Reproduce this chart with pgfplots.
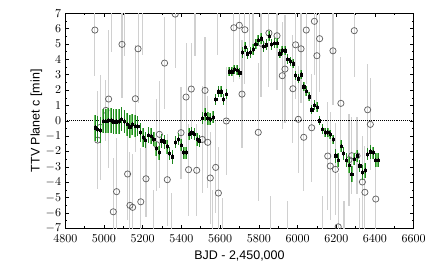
\documentclass[border=0pt]{standalone}
\usepackage{fontspec}
\setmainfont{Liberation Sans}
\usepackage{pgfplots}
\usepackage{pgfplotstable}
\pgfplotsset{compat=1.18}
\definecolor{errgray}{RGB}{208,208,208}
\definecolor{circgray}{RGB}{95,95,95}
\definecolor{lgreen}{RGB}{110,195,100}
\definecolor{dgreen}{RGB}{30,135,30}

\pgfplotstableread{
x y ge
4953 -0.45 0.85
4967 -0.55 0.85
4981 -0.62 0.85
4995 -0.01 0.8
5009 0.00 0.8
5022 0.03 0.8
5036 0.03 0.8
5050 -0.06 0.8
5063 -0.06 0.8
5077 -0.03 0.8
5091 0.12 0.8
5105 -0.03 0.75
5119 -0.21 0.75
5133 -0.38 0.75
5146 -0.23 0.7
5160 -0.34 0.7
5174 -0.36 0.65
5188 -0.75 0.6
5201 -1.08 0.6
5215 -1.25 0.55
5229 -0.92 0.5
5243 -0.99 0.5
5257 -1.20 0.45
5270 -1.81 0.45
5284 -2.07 0.45
5298 -1.29 0.45
5312 -1.36 0.45
5325 -1.68 0.45
5339 -2.12 0.45
5353 -2.34 0.45
5370 -1.40 0.4
5384 -1.20 0.4
5398 -1.58 0.4
5412 -2.07 0.4
5425 -2.07 0.4
5439 -0.86 0.4
5453 -0.77 0.4
5467 -0.86 0.4
5480 -1.21 0.4
5494 -1.29 0.4
5508 0.18 0.4
5522 0.42 0.4
5536 0.16 0.4
5549 0.10 0.4
5563 0.23 0.4
5577 1.40 0.35
5591 1.90 0.35
5604 1.90 0.35
5618 1.40 0.35
5632 1.74 0.35
5646 3.20 0.3
5660 3.20 0.3
5673 3.35 0.3
5687 3.31 0.3
5701 3.13 0.3
5715 4.45 0.35
5728 4.80 0.35
5742 4.37 0.35
5756 4.46 0.35
5770 4.65 0.35
5784 5.00 0.35
5797 5.26 0.35
5811 5.35 0.35
5825 4.83 0.35
5839 4.95 0.35
5852 5.52 0.35
5866 4.98 0.35
5880 5.07 0.35
5894 5.07 0.35
5908 4.37 0.3
5921 4.59 0.3
5935 4.56 0.3
5949 4.02 0.3
5963 3.87 0.3
5976 3.72 0.3
5990 2.96 0.3
6004 2.74 0.3
6018 3.00 0.3
6032 2.22 0.3
6045 1.94 0.3
6059 1.57 0.3
6073 0.72 0.3
6087 1.03 0.3
6100 0.90 0.3
6114 0.01 0.3
6128 -0.53 0.3
6142 -0.75 0.3
6156 -0.75 0.3
6169 -0.88 0.3
6183 -1.20 0.3
6197 -2.27 0.45
6210 -2.55 0.45
6224 -1.64 0.4
6238 -2.12 0.4
6252 -2.55 0.45
6266 -2.88 0.5
6280 -3.46 0.5
6293 -2.49 0.4
6307 -2.27 0.4
6321 -2.92 0.4
6335 -3.35 0.5
6348 -3.22 0.5
6362 -2.18 0.4
6376 -2.01 0.45
6390 -2.07 0.4
6404 -2.55 0.45
6417 -2.55 0.45
}\maindata

\pgfplotstableread{
x y e
4953 5.91 3.0
4967 -1.25 3.2
4981 -0.42 3.4
5010 0.68 2.0
5024 1.42 4.5
5048 -5.92 3.5
5065 -4.61 3.5
5093 4.98 3.5
5122 -3.46 3.0
5134 -5.50 3.5
5148 -5.63 3.5
5162 1.44 3.5
5176 4.69 3.5
5190 -5.27 3.5
5217 -3.77 2.5
5272 -1.55 3.0
5286 -0.88 3.5
5313 3.76 3.0
5327 -3.83 3.0
5368 6.95 3.5
5398 -0.77 3.0
5424 1.55 3.5
5437 -3.18 3.0
5451 2.07 3.0
5479 -3.22 3.0
5508 -1.21 3.5
5522 1.98 3.5
5536 -1.40 3.0
5549 -3.72 3.0
5577 -3.03 3.0
5591 -4.70 3.0
5632 -0.01 3.5
5671 6.06 3.5
5699 6.22 3.5
5713 1.74 3.5
5728 5.93 3.5
5797 -0.75 4.5
5811 5.05 3.5
5852 5.72 3.5
5894 5.54 3.5
5921 2.94 3.5
5935 3.37 3.5
5976 2.09 3.5
5990 4.95 3.5
6004 0.10 3.5
6018 4.69 3.5
6032 -1.07 3.5
6045 5.91 3.5
6073 -0.45 3.5
6087 6.48 3.5
6100 4.24 3.5
6114 5.35 3.5
6156 -2.29 3.5
6169 -2.94 3.5
6183 4.56 3.5
6196 -3.16 3.0
6210 -6.90 3.5
6224 1.14 3.0
6266 -2.53 3.0
6280 -2.27 2.5
6293 5.87 3.0
6307 -2.27 2.5
6335 -3.98 3.0
6348 -4.65 3.0
6362 0.72 3.0
6376 -0.23 3.0
6404 -5.09 3.0
5037 8.5 4.0
5107 8.0 3.8
5200 7.8 3.5
5255 -8.0 3.5
5350 -8.5 3.8
5470 8.2 4.0
5560 -8.3 3.8
5585 8.5 4.2
5610 -8.5 3.5
5750 9.0 4.2
5770 8.2 3.8
5860 -8.5 3.6
5950 -9.0 3.8
6130 -8.5 3.6
6240 -9.0 3.8
6320 -8.6 3.6
}\circdata

\begin{document}
\begin{tikzpicture}
\begin{axis}[
  scale only axis,
  width=290.3pt, height=179.2pt,
  xmin=4800, xmax=6600, ymin=-7, ymax=7,
  xtick distance=200, ytick distance=1,
  minor x tick num=1, minor y tick num=1,
  tick align=inside,
  major tick length=3pt, minor tick length=1.8pt,
  axis line style={line width=0.6pt},
  every tick/.style={black, line width=0.5pt},
  clip marker paths=true,
  /pgf/number format/set thousands separator={},
  xlabel={BJD - 2,450,000},
  ylabel={TTV Planet c [min]},
  label style={font=\fontsize{10.4}{12}\selectfont},
  ticklabel style={font=\fontsize{10}{12}\selectfont},
  xticklabel style={yshift=-1.5pt},
  ylabel shift=-4pt,
]
% gray error bars
\addplot[draw=none, mark=none, error bars/.cd, y dir=both, y explicit, error mark=none,
  error bar style={draw=errgray, line width=0.9pt}]
  table[x=x, y=y, y error=e] {\circdata};
% zero line
\addplot[black, densely dotted, line width=0.6pt, mark=none] coordinates {(4800,0) (6600,0)};
% circles
\addplot[only marks, mark=o, mark size=2.6pt, mark options={draw=circgray, fill=none, line width=0.6pt}]
  table[x=x, y=y] {\circdata};
% green error bars
\addplot[draw=none, mark=none, error bars/.cd, y dir=both, y explicit, error mark=none,
  error bar style={draw=lgreen, line width=1.3pt}]
  table[x=x, y=y, y error=ge] {\maindata};
\addplot[draw=none, mark=none, error bars/.cd, y dir=both, y explicit, error mark=none,
  error bar style={draw=dgreen, line width=0.55pt}]
  table[x=x, y=y, y error=ge] {\maindata};
% black points
\addplot[only marks, mark=square*, mark size=0.9pt, mark options={fill=black, draw=black},
  error bars/.cd, y dir=both, y fixed=0.15, error mark=none,
  error bar style={draw=black, line width=0.55pt}]
  table[x=x, y=y] {\maindata};
\end{axis}
\pgfresetboundingbox
\path ([shift={(-54.4pt,-33.9pt)}]current axis.south west) rectangle ([shift={(18.6pt,11.1pt)}]current axis.north east);
\end{tikzpicture}
\end{document}
